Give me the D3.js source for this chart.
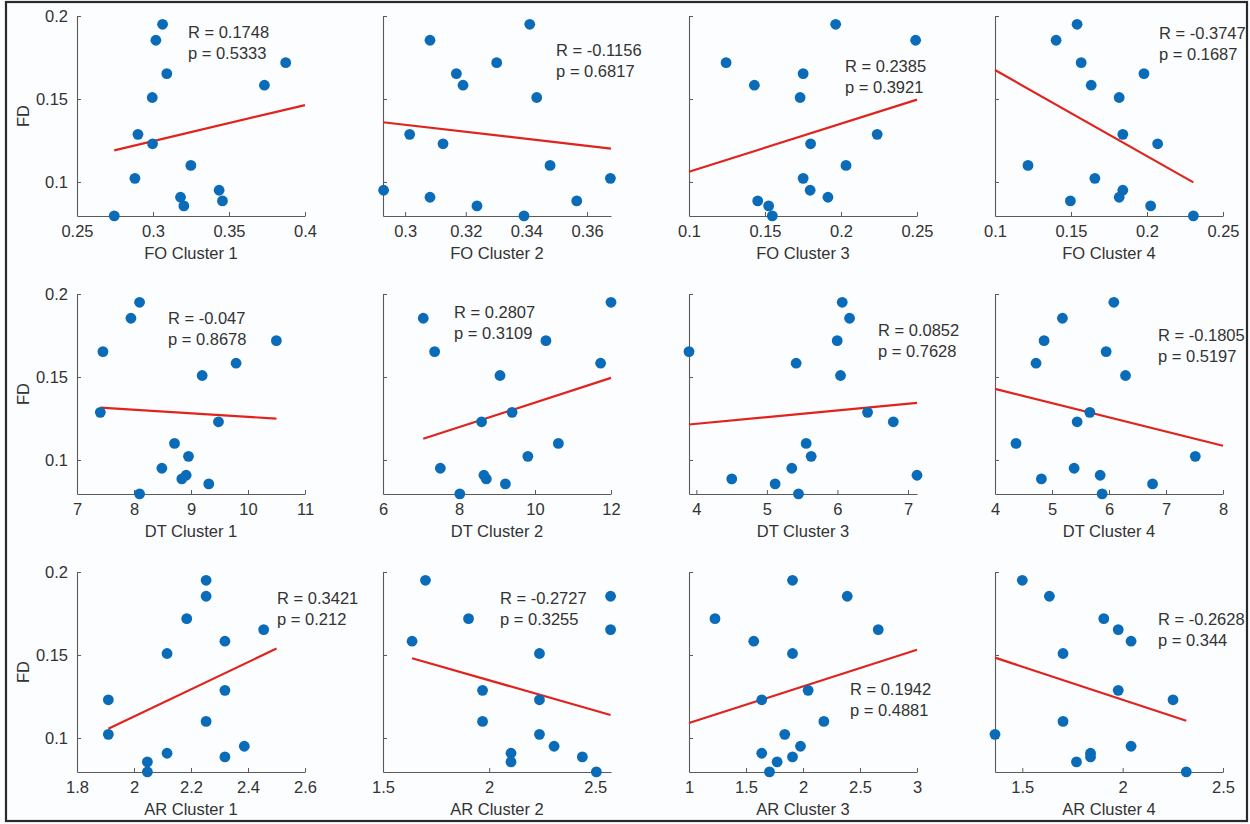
<!DOCTYPE html>
<html>
<head>
<meta charset="utf-8">
<script src="https://cdn.jsdelivr.net/npm/d3@7"></script>
<style>
  html, body { margin: 0; padding: 0; background: #fcfdfe; }
  svg { display: block; }
  text { font-family: "Liberation Sans", Arial, Helvetica, sans-serif; fill: #333; }
</style>
</head>
<body>
<svg id="chart" width="1250" height="824"></svg>
<script>
// FD of the 15 subjects (same order in every panel)
const fd = [0.1950, 0.1854, 0.1719, 0.1653, 0.1583, 0.1509, 0.1287, 0.1230,
            0.1100, 0.1022, 0.0950, 0.0908, 0.0886, 0.0856, 0.0796];

// predictor values, one array per panel, aligned with fd
const foCluster1 = [0.3063, 0.3019, 0.3873, 0.3091, 0.3733, 0.2995, 0.2901, 0.2997, 0.3249, 0.2881, 0.3435, 0.3181, 0.3457, 0.3203, 0.2745];
const foCluster2 = [0.3411, 0.3082, 0.3302, 0.3169, 0.3191, 0.3434, 0.3015, 0.3125, 0.3478, 0.3677, 0.2929, 0.3082, 0.3566, 0.3237, 0.3392];
const foCluster3 = [0.1965, 0.2491, 0.1244, 0.1751, 0.1430, 0.1731, 0.2238, 0.1800, 0.2033, 0.1751, 0.1797, 0.1914, 0.1452, 0.1524, 0.1548];
const foCluster4 = [0.1540, 0.1402, 0.1567, 0.1980, 0.1633, 0.1817, 0.1841, 0.2070, 0.1217, 0.1657, 0.1841, 0.1817, 0.1496, 0.2024, 0.2305];
const dtCluster1 = [8.098, 7.946, 10.498, 7.455, 9.791, 9.196, 7.409, 9.482, 8.711, 8.956, 8.489, 8.915, 8.839, 9.312, 8.098];
const dtCluster2 = [12.0, 7.059, 10.288, 7.359, 11.727, 9.079, 9.397, 8.594, 10.615, 9.812, 7.509, 8.656, 8.718, 9.221, 8.021];
const dtCluster3 = [6.068, 6.172, 5.997, 3.896, 5.415, 6.044, 6.427, 6.792, 5.557, 5.628, 5.353, 7.128, 4.502, 5.117, 5.448];
const dtCluster4 = [6.085, 5.183, 4.861, 5.950, 4.720, 6.290, 5.663, 5.441, 4.369, 7.514, 5.388, 5.845, 4.814, 6.764, 5.880];
const arCluster1 = [2.253, 2.253, 2.185, 2.455, 2.319, 2.116, 2.319, 1.910, 2.253, 1.910, 2.387, 2.116, 2.319, 2.047, 2.047];
const arCluster2 = [1.700, 2.572, 1.903, 2.572, 1.637, 2.237, 1.969, 2.237, 1.969, 2.237, 2.306, 2.103, 2.439, 2.103, 2.505];
const arCluster3 = [1.908, 2.388, 1.228, 2.660, 1.568, 1.908, 2.045, 1.638, 2.183, 1.840, 1.978, 1.638, 1.908, 1.773, 1.706];
const arCluster4 = [1.500, 1.635, 1.906, 1.978, 2.042, 1.703, 1.978, 2.251, 1.703, 1.364, 2.042, 1.840, 1.840, 1.770, 2.317];

const predictors = [foCluster1, foCluster2, foCluster3, foCluster4,
                    dtCluster1, dtCluster2, dtCluster3, dtCluster4,
                    arCluster1, arCluster2, arCluster3, arCluster4];

const xLabels = ["FO Cluster 1", "FO Cluster 2", "FO Cluster 3", "FO Cluster 4",
                 "DT Cluster 1", "DT Cluster 2", "DT Cluster 3", "DT Cluster 4",
                 "AR Cluster 1", "AR Cluster 2", "AR Cluster 3", "AR Cluster 4"];

// Pearson R and p as reported
const rValues = ["0.1748", "-0.1156", "0.2385", "-0.3747",
                 "-0.047", "0.2807", "0.0852", "-0.1805",
                 "0.3421", "-0.2727", "0.1942", "-0.2628"];
const pValues = ["0.5333", "0.6817", "0.3921", "0.1687",
                 "0.8678", "0.3109", "0.7628", "0.5197",
                 "0.212", "0.3255", "0.4881", "0.344"];

// x-axis limits and tick values
const xDomains = [[0.25, 0.4], [0.2927, 0.3679], [0.1, 0.25], [0.1, 0.25],
                  [7, 11], [6, 12], [3.896, 7.128], [4, 8],
                  [1.8, 2.6], [1.5, 2.574], [1, 3], [1.364, 2.5]];
const xTicks = [[0.25, 0.3, 0.35, 0.4], [0.3, 0.32, 0.34, 0.36], [0.1, 0.15, 0.2, 0.25], [0.1, 0.15, 0.2, 0.25],
                [7, 8, 9, 10, 11], [6, 8, 10, 12], [4, 5, 6, 7], [4, 5, 6, 7, 8],
                [1.8, 2, 2.2, 2.4, 2.6], [1.5, 2, 2.5], [1, 1.5, 2, 2.5, 3], [1.5, 2, 2.5]];
// x range over which each fitted line is drawn
const fitRanges = [[0.2745, 0.4], [0.2927, 0.3679], [0.1, 0.25], [0.1, 0.2305],
                   [7.409, 10.498], [7.059, 12.0], [3.896, 7.128], [4, 8],
                   [1.910, 2.5], [1.637, 2.572], [1, 3], [1.364, 2.317]];
const yDomain = [0.0795, 0.2];
const yTicks = [0.1, 0.15, 0.2];

// anchor of the R / p annotation in data units
const statAnchors = [[0.323, 0.1892], [0.3498, 0.1783], [0.2026, 0.1687], [0.2079, 0.1886],
                     [8.596, 0.1843], [7.868, 0.188], [6.575, 0.1771], [6.86, 0.1741],
                     [2.502, 0.1831], [2.051, 0.1831], [2.412, 0.1283], [2.176, 0.1705]];

const svg = d3.select("#chart");

// outer frame
svg.append("rect")
  .attr("x", 6).attr("y", 2).attr("width", 1241).attr("height", 819)
  .attr("fill", "none").attr("stroke", "#2a2a2a").attr("stroke-width", 2.2);

const panelW = 228, panelH = 200;
const lefts = [77, 383, 689, 995];
const tops = [16, 294, 572];
const axisColor = "#5a5a5a";
const dotColor = "#0a6cb8";
const lineColor = "#e0231c";
const fs = 16.5;

predictors.forEach((xs, i) => {
  const col = i % 4, row = Math.floor(i / 4);
  const g = svg.append("g").attr("transform", `translate(${lefts[col]},${tops[row]})`);

  const x = d3.scaleLinear().domain(xDomains[i]).range([0, panelW]);
  const y = d3.scaleLinear().domain(yDomain).range([panelH, 0]);

  // x axis
  const xAxis = d3.axisBottom(x).tickValues(xTicks[i]).tickSizeInner(-4).tickSizeOuter(0)
    .tickFormat(d3.format("~g")).tickPadding(9);
  const gx = g.append("g").attr("transform", `translate(0,${panelH})`).call(xAxis);
  gx.select(".domain").attr("stroke", axisColor).attr("stroke-width", 1.1);
  gx.selectAll(".tick line").attr("stroke", axisColor);
  gx.selectAll(".tick text").attr("font-size", fs).attr("fill", "#333")
    .attr("font-family", "Liberation Sans, Arial, sans-serif");

  // y axis
  const yAxis = d3.axisLeft(y).tickValues(yTicks).tickSizeInner(-4).tickSizeOuter(0)
    .tickFormat(d3.format("~g")).tickPadding(9);
  const gy = g.append("g").call(yAxis);
  gy.select(".domain").attr("stroke", axisColor).attr("stroke-width", 1.1);
  gy.selectAll(".tick line").attr("stroke", axisColor);
  gy.selectAll(".tick text").attr("font-size", fs).attr("fill", "#333")
    .attr("font-family", "Liberation Sans, Arial, sans-serif");
  if (col > 0) gy.selectAll(".tick text").remove();

  // labels
  g.append("text").attr("x", panelW / 2).attr("y", panelH + 39)
    .attr("text-anchor", "middle").attr("dominant-baseline", "middle")
    .attr("font-size", fs).text(xLabels[i]);
  if (col === 0) {
    g.append("text").attr("transform", `translate(-52,${panelH / 2}) rotate(-90)`)
      .attr("text-anchor", "middle").attr("dominant-baseline", "middle")
      .attr("font-size", fs).text("FD");
  }

  // fitted line: slope from reported R and the sample standard deviations
  const r = +rValues[i];
  const mx = d3.mean(xs), my = d3.mean(fd);
  const slope = r * d3.deviation(fd) / d3.deviation(xs);
  const fit = v => my + slope * (v - mx);
  const [x0, x1] = fitRanges[i];
  g.append("line")
    .attr("x1", x(x0)).attr("y1", y(fit(x0)))
    .attr("x2", x(x1)).attr("y2", y(fit(x1)))
    .attr("stroke", lineColor).attr("stroke-width", 2.2);

  // points
  g.selectAll("circle").data(xs.map((v, k) => [v, fd[k]])).join("circle")
    .attr("cx", d => x(d[0])).attr("cy", d => y(d[1]))
    .attr("r", 5.4).attr("fill", dotColor);

  // statistics
  const [ax, ay] = statAnchors[i];
  const t = g.append("g").attr("transform", `translate(${x(ax)},${y(ay)})`);
  t.append("text").attr("dominant-baseline", "middle").attr("font-size", fs)
    .text(`R = ${rValues[i]}`);
  t.append("text").attr("y", 21).attr("dominant-baseline", "middle").attr("font-size", fs)
    .text(`p = ${pValues[i]}`);
});
</script>
</body>
</html>
